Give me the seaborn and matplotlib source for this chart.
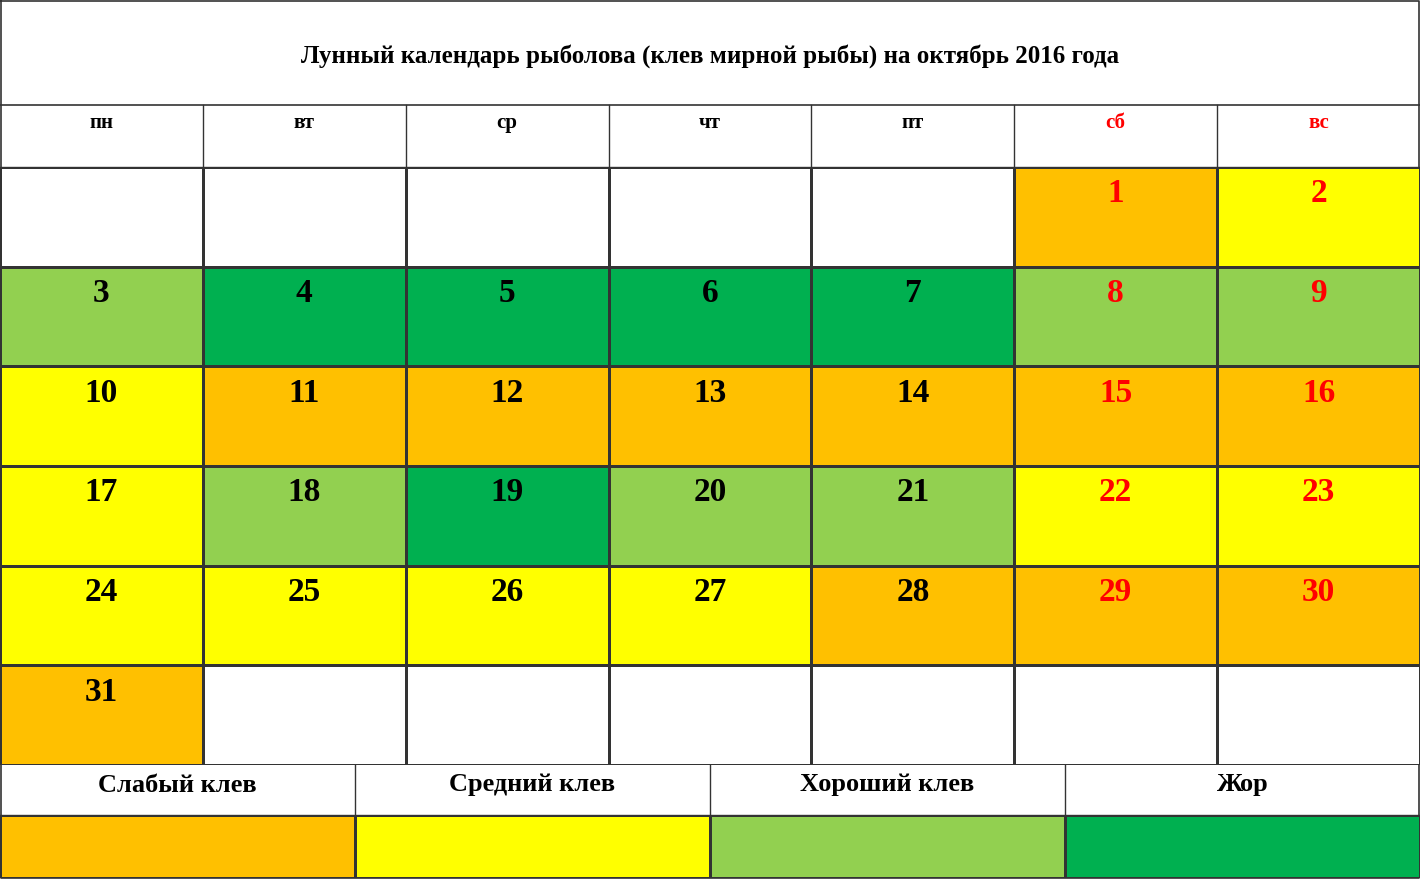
import numpy as np
import matplotlib.pyplot as plt
import seaborn as sns
from matplotlib.colors import ListedColormap

title = "Лунный календарь рыболова (клев мирной рыбы) на октябрь 2016 года"
weekdays = ["пн", "вт", "ср", "чт", "пт", "сб", "вс"]
legend_labels = ["Слабый клев", "Средний клев", "Хороший клев", "Жор"]
# 0 слабый, 1 средний, 2 хороший, 3 жор (по дням 1..31)
days = list(range(1, 32))
bite = [0, 1,
        2, 3, 3, 3, 3, 2, 2,
        1, 0, 0, 0, 0, 0, 0,
        1, 2, 3, 2, 2, 1, 1,
        1, 1, 1, 1, 0, 0, 0,
        0]
first_weekday = 5  # 1 октября 2016 - суббота

colors = ["#ffffff", "#ffc000", "#ffff00", "#92d050", "#00b050"]
cmap = ListedColormap(colors)

grid = np.full((6, 7), -1)
labels = np.full((6, 7), "", dtype=object)
for d, b in zip(days, bite):
    pos = d - 1 + first_weekday
    grid[pos // 7, pos % 7] = b
    labels[pos // 7, pos % 7] = str(d)

W, H = 1420, 881
fig = plt.figure(figsize=(W / 100, H / 100), dpi=100)
serif = "Liberation Serif"

bg = fig.add_axes([0, 0, 1, 1])
bg.set_xlim(0, W)
bg.set_ylim(H, 0)
bg.axis("off")
lc = "#333333"
bg.plot([1, W - 1, W - 1, 1, 1], [1, 1, 878, 878, 1], color=lc, lw=1.2)
bg.axhline(105, color=lc, lw=1.2)
bg.axhline(167, color=lc, lw=1)
bg.axhline(815, color=lc, lw=1)
colw = W / 7
for i in range(1, 7):
    bg.plot([i * colw, i * colw], [105, 167], color=lc, lw=1)
for i in range(1, 4):
    bg.plot([i * W / 4, i * W / 4], [765, 815], color=lc, lw=1)
bg.text(W / 2, 56, title, ha="center", va="center", fontsize=18,
        fontweight="bold", family=serif)
for i, wd in enumerate(weekdays):
    bg.text((i + 0.5) * colw, 123, wd, ha="center", va="center", fontsize=15,
            fontweight="bold", family=serif, color="red" if i >= 5 else "black")
for i, lab in enumerate(legend_labels):
    bg.text((i + 0.5) * W / 4, 785, lab, ha="center", va="center", fontsize=19,
            fontweight="bold", family=serif)

ax = fig.add_axes([0, (H - 765) / H, 1, 598 / H])
sns.heatmap(grid, ax=ax, cmap=cmap, vmin=-1.5, vmax=3.5, cbar=False,
            linewidths=1, linecolor=lc, xticklabels=False, yticklabels=False)
for r in range(6):
    for c in range(7):
        if labels[r, c]:
            ax.text(c + 0.5, r + 0.27, labels[r, c], ha="center", va="center",
                    fontsize=24, fontweight="bold", family=serif,
                    color="red" if c >= 5 else "black")

lax = fig.add_axes([0, 3 / H, 1, 63 / H])
sns.heatmap(np.array([[0, 1, 2, 3]]), ax=lax, cmap=cmap, vmin=-1.5, vmax=3.5,
            cbar=False, linewidths=1, linecolor=lc,
            xticklabels=False, yticklabels=False)

fig.savefig("out.png", dpi=100)
